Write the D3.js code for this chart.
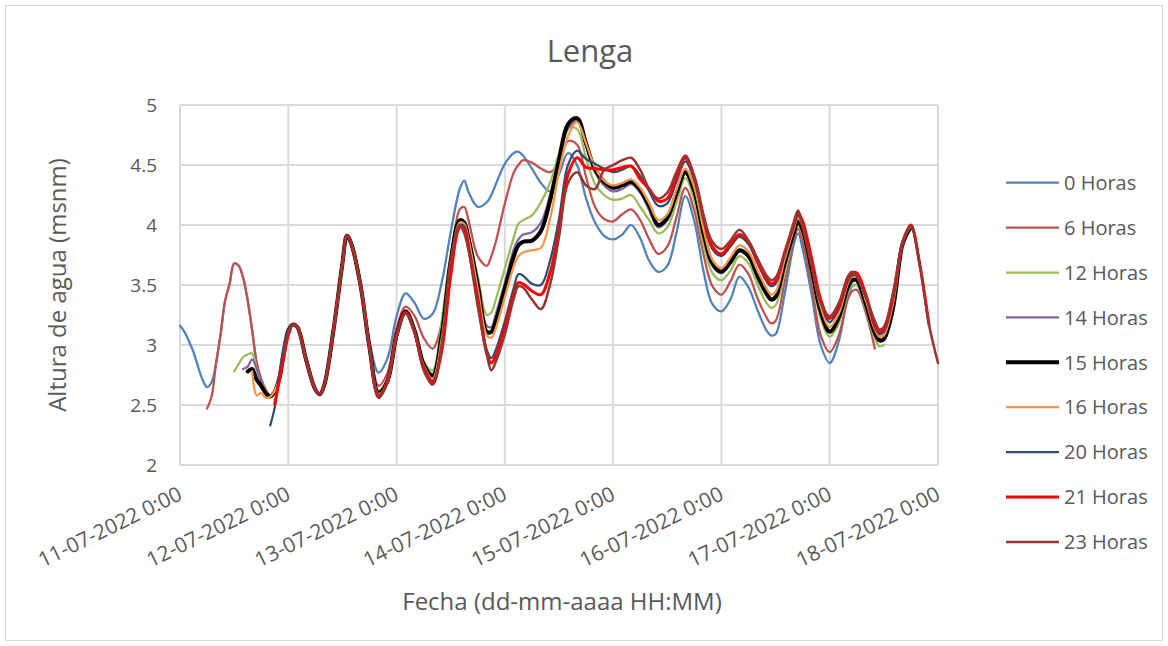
<!DOCTYPE html>
<html lang="es">
<head>
<meta charset="utf-8">
<title>Lenga</title>
<style>
body { margin: 0; background: #fff; }
text { font-family: "Open Sans", sans-serif; fill: #595959; }
</style>
<script src="https://cdn.jsdelivr.net/npm/d3@7"></script>
</head>
<body>
<svg id="chart" width="1168" height="646"></svg>
<script>

// pronosticos: [horas desde 11-07-2022 0:00, altura (msnm)]
var s00 = [[0,3.16],[1,3.11],[2,3.03],[3,2.94],[4,2.82],[5,2.71],[6,2.65],[7,2.69],[8,2.85],[9,3.09],[10,3.37],[11,3.51],[12,3.68],[13,3.66],[14,3.56],[15,3.37],[16,3.12],[17,2.85],[18,2.70],[19,2.62],[20,2.58],[21,2.61],[22,2.72],[23,2.93],
  [24,3.12],[25,3.17],[26,3.15],[28,2.87],[30,2.63],[31,2.59],[32,2.67],[34,3.12],[36,3.68],[37,3.91],[38,3.84],[40,3.50],[42,3.03],
  [44,2.77],[46,2.89],[48,3.24],[50,3.43],[52,3.35],[54,3.22],[56,3.26],[58,3.52],[60,3.94],[62,4.30],[63,4.37],[64,4.27],[66,4.15],[68,4.19],[69,4.25],[70,4.34],[72,4.51],[74,4.60],[75,4.61],[76,4.58],[78,4.47],[80,4.35],[82,4.28],[84,4.42],[86,4.60],[88,4.50],
  [90,4.22],[92,4.02],[94,3.91],[96,3.88],[98,3.92],[100,4.00],[102,3.89],[104,3.70],[106,3.61],[108,3.66],[110,3.93],[112,4.24],[114,4.03],[116,3.62],[118,3.34],[120,3.28],[122,3.38],[124,3.57],[126,3.48],[128,3.29],[130,3.12],[131,3.08],[132,3.09],[134,3.42],[136,3.83],[137,3.93],[138,3.80],[140,3.42],[142,3.00],[144,2.85],[146,3.03],[148,3.40],[149,3.49],[150,3.50]];

var s06 = [[6,2.47],[7,2.57],[8,2.85],[9,3.09],[10,3.37],[11,3.51],[12,3.68],[13,3.66],[14,3.56],[15,3.37],[16,3.12],[17,2.85],[18,2.72],[19,2.63],[20,2.58],[21,2.61],[22,2.72],[23,2.93],
  [24,3.12],[25,3.17],[26,3.15],[28,2.87],[30,2.63],[31,2.59],[32,2.67],[34,3.12],[36,3.68],[37,3.91],[38,3.84],[40,3.50],[42,3.00],
  [44,2.66],[46,2.77],[48,3.14],[50,3.32],[52,3.24],[54,3.06],[56,2.97],[58,3.18],[60,3.70],[62,4.13],[63,4.15],[64,4.03],[66,3.74],[68,3.66],[69,3.74],[70,3.86],[72,4.18],[74,4.44],[75,4.50],[76,4.54],[78,4.52],[80,4.47],[82,4.44],[84,4.52],[86,4.70],[88,4.67],
  [90,4.40],[92,4.15],[94,4.05],[96,4.03],[98,4.09],[100,4.13],[102,4.04],[104,3.88],[106,3.76],[108,3.82],[110,4.06],[112,4.31],[114,4.12],[116,3.76],[118,3.49],[120,3.42],[122,3.53],[124,3.67],[126,3.59],[128,3.39],[130,3.23],[131,3.18],[132,3.20],[134,3.52],[136,3.87],[137,3.97],[138,3.86],[140,3.50],[142,3.08],[144,2.94],[146,3.08],[148,3.38],[149,3.45],[150,3.46],[152,3.27],[154,2.97]];

var s12 = [[12,2.78],[13,2.84],[14,2.90],[15,2.92],[16,2.93],[17,2.80],[18,2.69],[19,2.62],[20,2.58],[21,2.61],[22,2.72],[23,2.93],
  [24,3.12],[25,3.17],[26,3.15],[28,2.87],[30,2.63],[31,2.59],[32,2.67],[34,3.12],[36,3.68],[37,3.91],[38,3.84],[40,3.50],[42,2.98],
  [44,2.62],[46,2.72],[48,3.09],[50,3.29],[52,3.13],[54,2.86],[56,2.79],[58,3.20],[60,3.75],[62,4.03],[63,4.00],[64,3.90],[66,3.57],[68,3.25],[69,3.27],[70,3.38],[72,3.64],[74,3.90],[75,4.01],[76,4.04],[78,4.08],[80,4.19],[82,4.35],[84,4.60],[86,4.81],[88,4.80],
  [90,4.56],[92,4.34],[94,4.25],[96,4.21],[98,4.22],[100,4.25],[102,4.15],[104,4.04],[106,3.93],[108,3.98],[110,4.18],[112,4.39],[114,4.20],[116,3.84],[118,3.60],[120,3.54],[122,3.62],[124,3.74],[126,3.68],[128,3.50],[130,3.35],[131,3.31],[132,3.33],[134,3.60],[136,3.90],[137,4.00],[138,3.92],[140,3.58],[142,3.22],[144,3.07],[146,3.18],[148,3.44],[149,3.50],[150,3.50],[152,3.30],[154,3.06],[155,2.99],[156,3.00]];

var s14 = [[14,2.80],[15,2.82],[16,2.88],[17,2.80],[18,2.69],[19,2.60],[20,2.58],[21,2.61],[22,2.72],[23,2.93],
  [24,3.12],[25,3.17],[26,3.15],[28,2.87],[30,2.63],[31,2.59],[32,2.67],[34,3.12],[36,3.68],[37,3.91],[38,3.84],[40,3.50],[42,2.98],
  [44,2.61],[46,2.71],[48,3.09],[50,3.28],[52,3.12],[54,2.85],[56,2.76],[58,3.12],[60,3.72],[62,4.04],[63,4.01],[64,3.88],[66,3.52],[68,3.16],[69,3.15],[70,3.26],[72,3.52],[74,3.80],[75,3.88],[76,3.92],[78,3.94],[80,4.02],[82,4.25],[84,4.56],[86,4.80],[88,4.87],
  [90,4.66],[92,4.44],[94,4.33],[96,4.28],[98,4.30],[100,4.34],[102,4.27],[104,4.12],[106,3.98],[108,4.04],[110,4.24],[112,4.43],[114,4.26],[116,3.90],[118,3.66],[120,3.60],[122,3.68],[124,3.78],[126,3.73],[128,3.55],[130,3.41],[131,3.37],[132,3.39],[134,3.66],[136,3.92],[137,4.03],[138,3.95],[140,3.62],[142,3.27],[144,3.11],[146,3.22],[148,3.47],[149,3.53],[150,3.53],[152,3.33],[154,3.09],[155,3.03],[156,3.04],[158,3.30]];

var s15 = [[15,2.78],[16,2.80],[17,2.71],[18,2.66],[19,2.60],[20,2.57],[21,2.61],[22,2.72],[23,2.93],
  [24,3.12],[25,3.17],[26,3.15],[28,2.87],[30,2.63],[31,2.59],[32,2.67],[34,3.12],[36,3.68],[37,3.91],[38,3.84],[40,3.50],[42,2.98],
  [44,2.60],[46,2.70],[48,3.08],[50,3.28],[52,3.12],[54,2.84],[56,2.74],[58,3.08],[60,3.70],[62,4.04],[63,4.02],[64,3.88],[66,3.50],[68,3.11],[69,3.11],[70,3.20],[72,3.47],[74,3.74],[75,3.83],[76,3.86],[78,3.87],[80,3.95],[82,4.20],[84,4.54],[86,4.84],[88,4.89],
  [90,4.68],[92,4.46],[94,4.36],[96,4.31],[98,4.33],[100,4.36],[102,4.29],[104,4.16],[106,4.00],[108,4.06],[110,4.26],[112,4.44],[114,4.28],[116,3.94],[118,3.68],[120,3.61],[122,3.69],[124,3.79],[126,3.74],[128,3.58],[130,3.43],[131,3.38],[132,3.40],[134,3.68],[136,3.93],[137,4.03],[138,3.96],[140,3.63],[142,3.28],[144,3.11],[146,3.23],[148,3.48],[149,3.54],[150,3.54],[152,3.34],[154,3.10],[155,3.04],[156,3.05],[158,3.30],[160,3.82],[161,3.92],[162,3.98]];

var s16 = [[16,2.78],[17,2.58],[18,2.60],[19,2.56],[20,2.57],[21,2.62],[22,2.72],[23,2.93],
  [24,3.12],[25,3.17],[26,3.15],[28,2.87],[30,2.63],[31,2.59],[32,2.67],[34,3.12],[36,3.68],[37,3.91],[38,3.84],[40,3.50],[42,2.98],
  [44,2.59],[46,2.70],[48,3.08],[50,3.27],[52,3.11],[54,2.83],[56,2.72],[58,3.05],[60,3.66],[62,4.02],[63,4.01],[64,3.87],[66,3.47],[68,3.08],[69,3.06],[70,3.14],[72,3.40],[74,3.66],[75,3.74],[76,3.77],[78,3.79],[80,3.81],[82,4.05],[84,4.44],[86,4.74],[88,4.86],
  [90,4.68],[92,4.48],[94,4.37],[96,4.33],[98,4.35],[100,4.38],[102,4.31],[104,4.18],[106,4.04],[108,4.09],[110,4.29],[112,4.47],[114,4.31],[116,3.97],[118,3.71],[120,3.64],[122,3.73],[124,3.83],[126,3.78],[128,3.62],[130,3.47],[131,3.42],[132,3.44],[134,3.71],[136,3.96],[137,4.06],[138,3.99],[140,3.66],[142,3.32],[144,3.15],[146,3.26],[148,3.51],[149,3.57],[150,3.57],[152,3.37],[154,3.13],[155,3.07],[156,3.08],[158,3.34],[160,3.82],[161,3.93],[162,3.99]];

var s20 = [[20,2.33],[21,2.48],[22,2.75],[23,2.99],
  [24,3.12],[25,3.17],[26,3.15],[28,2.87],[30,2.63],[31,2.59],[32,2.67],[34,3.12],[36,3.68],[37,3.91],[38,3.84],[40,3.50],[42,2.98],
  [44,2.58],[46,2.70],[48,3.08],[50,3.27],[52,3.11],[54,2.82],[56,2.70],[58,2.98],[60,3.60],[62,4.00],[63,3.99],[64,3.82],[66,3.40],[68,2.96],[69,2.89],[70,2.96],[72,3.20],[74,3.48],[75,3.59],[76,3.58],[78,3.51],[80,3.50],[82,3.70],[84,4.05],[86,4.50],[88,4.62],
  [90,4.55],[92,4.51],[94,4.47],[96,4.44],[98,4.46],[100,4.49],[102,4.41],[104,4.28],[106,4.16],[108,4.18],[110,4.36],[112,4.53],[114,4.37],[116,4.05],[118,3.80],[120,3.74],[122,3.82],[124,3.90],[126,3.84],[128,3.68],[130,3.53],[131,3.49],[132,3.51],[134,3.75],[136,3.98],[137,4.08],[138,4.01],[140,3.70],[142,3.36],[144,3.19],[146,3.30],[148,3.53],[149,3.58],[150,3.58],[152,3.40],[154,3.15],[155,3.09],[156,3.11],[158,3.38],[160,3.82],[161,3.93],[162,3.99],[164,3.66]];

var s21 = [[21,2.51],[22,2.70],[23,2.90],
  [24,3.08],[25,3.17],[26,3.15],[28,2.87],[30,2.63],[31,2.59],[32,2.67],[34,3.12],[36,3.68],[37,3.91],[38,3.84],[40,3.50],[42,2.98],
  [44,2.57],[46,2.70],[48,3.08],[50,3.27],[52,3.11],[54,2.81],[56,2.69],[58,2.95],[60,3.58],[62,3.98],[63,3.97],[64,3.80],[66,3.37],[68,2.93],[69,2.85],[70,2.91],[72,3.15],[74,3.43],[75,3.52],[76,3.51],[78,3.45],[80,3.42],[82,3.60],[84,3.96],[86,4.42],[88,4.56],
  [90,4.48],[92,4.47],[94,4.46],[96,4.46],[98,4.48],[100,4.49],[102,4.38],[104,4.30],[106,4.20],[108,4.22],[110,4.40],[112,4.56],[114,4.40],[116,4.08],[118,3.82],[120,3.76],[122,3.84],[124,3.92],[126,3.86],[128,3.70],[130,3.55],[131,3.51],[132,3.53],[134,3.77],[136,4.00],[137,4.10],[138,4.03],[140,3.72],[142,3.38],[144,3.22],[146,3.32],[148,3.55],[149,3.60],[150,3.60],[152,3.42],[154,3.17],[155,3.11],[156,3.13],[158,3.40],[160,3.83],[161,3.94],[162,4.00],[164,3.66],[166,3.17]];

var s23 = [[23,2.93],
  [24,3.10],[25,3.17],[26,3.15],[28,2.87],[30,2.63],[31,2.59],[32,2.67],[34,3.12],[36,3.68],[37,3.91],[38,3.84],[40,3.50],[42,2.98],
  [44,2.56],[46,2.69],[48,3.07],[50,3.26],[52,3.10],[54,2.79],[56,2.67],[58,3.00],[60,3.71],[62,4.00],[63,3.93],[64,3.78],[66,3.32],[68,2.92],[69,2.79],[70,2.86],[72,3.09],[74,3.39],[75,3.49],[76,3.48],[78,3.38],[80,3.30],[82,3.50],[84,3.90],[86,4.35],[88,4.44],
  [90,4.33],[92,4.30],[94,4.46],[96,4.50],[98,4.54],[100,4.56],[102,4.46],[104,4.30],[106,4.22],[108,4.27],[110,4.44],[112,4.58],[114,4.39],[116,4.08],[118,3.86],[120,3.80],[122,3.87],[124,3.96],[126,3.87],[128,3.72],[130,3.58],[131,3.54],[132,3.56],[134,3.76],[136,4.02],[137,4.12],[138,3.98],[140,3.66],[142,3.35],[144,3.24],[146,3.35],[148,3.57],[149,3.61],[150,3.57],[152,3.40],[154,3.20],[155,3.13],[156,3.15],[158,3.43],[160,3.84],[161,3.94],[162,4.00],[164,3.66],[166,3.17],[168,2.85]];

var etiquetas = ["0 Horas", "6 Horas", "12 Horas", "14 Horas", "15 Horas", "16 Horas", "20 Horas", "21 Horas", "23 Horas"];
var colores = ["#4F81BD", "#C0504D", "#9BBB59", "#8064A2", "#000000", "#F79646", "#2C4D75", "#FF0000", "#943634"];
var grosores = [2.25, 2.25, 2.25, 2.25, 4, 2.25, 2.25, 3, 2.5];
var series = [s00, s06, s12, s14, s15, s16, s20, s21, s23];

var ticksY = [2, 2.5, 3, 3.5, 4, 4.5, 5];
var inicio = new Date(2022, 6, 11, 0, 0),
    fin = new Date(2022, 6, 18, 0, 0);

var svg = d3.select("#chart");

svg.append("rect")
    .attr("x", 5.5).attr("y", 5.5)
    .attr("width", 1157).attr("height", 635)
    .attr("fill", "#fff")
    .attr("stroke", "#d9d9d9");

var x = d3.scaleTime().domain([inicio, fin]).range([180, 938]),
    y = d3.scaleLinear().domain([2, 5]).range([465, 105]);

var dias = d3.timeDay.range(inicio, d3.timeDay.offset(fin, 1));

// rejilla
svg.append("g")
    .selectAll("line")
    .data(ticksY)
    .enter().append("line")
    .attr("x1", 180).attr("x2", 938)
    .attr("y1", function(d) { return y(d); })
    .attr("y2", function(d) { return y(d); })
    .attr("stroke", "#d9d9d9").attr("stroke-width", 2);

svg.append("g")
    .selectAll("line")
    .data(dias)
    .enter().append("line")
    .attr("x1", function(d) { return x(d); })
    .attr("x2", function(d) { return x(d); })
    .attr("y1", 105).attr("y2", 465)
    .attr("stroke", "#d9d9d9").attr("stroke-width", 2);

// ejes
var ejeY = svg.append("g")
    .attr("transform", "translate(180,0)")
    .call(d3.axisLeft(y).tickValues(ticksY).tickSize(0).tickPadding(23).tickFormat(d3.format("~g")));
ejeY.select(".domain").remove();
ejeY.selectAll("text")
    .style("font-family", "'Open Sans', sans-serif")
    .style("font-size", "19px")
    .attr("fill", "#595959");

var ejeX = svg.append("g")
    .attr("transform", "translate(0,465)")
    .call(d3.axisBottom(x)
      .tickValues(dias)
      .tickSize(0)
      .tickFormat(d3.timeFormat("%d-%m-%Y %-H:%M")));
ejeX.select(".domain").remove();
ejeX.selectAll("text")
    .style("font-family", "'Open Sans', sans-serif")
    .style("font-size", "21px")
    .attr("fill", "#595959")
    .attr("text-anchor", "end")
    .attr("x", 0).attr("y", 0).attr("dy", 0)
    .attr("transform", "translate(3,34) rotate(-26)");

// lineas
var linea = d3.line()
    .x(function(d) { return x(d3.timeHour.offset(inicio, d[0])); })
    .y(function(d) { return y(d[1]); })
    .curve(d3.curveCatmullRom.alpha(0.5));

svg.append("g")
    .selectAll("path")
    .data(series)
    .enter().append("path")
    .attr("d", linea)
    .attr("fill", "none")
    .attr("stroke", function(d, i) { return colores[i]; })
    .attr("stroke-width", function(d, i) { return grosores[i]; })
    .attr("stroke-linejoin", "round")
    .attr("stroke-linecap", "round");

// titulos
svg.append("text")
    .attr("x", 590).attr("y", 62)
    .attr("text-anchor", "middle")
    .style("font-size", "31px")
    .text("Lenga");

svg.append("text")
    .attr("transform", "translate(66,285) rotate(-90)")
    .attr("text-anchor", "middle")
    .style("font-size", "24px")
    .text("Altura de agua (msnm)");

svg.append("text")
    .attr("x", 562).attr("y", 610)
    .attr("text-anchor", "middle")
    .style("font-size", "24px")
    .text("Fecha (dd-mm-aaaa HH:MM)");

// leyenda
var leyenda = svg.append("g")
    .selectAll("g")
    .data(etiquetas)
    .enter().append("g")
    .attr("transform", function(d, i) { return "translate(1006," + (182.7 + i * 44.9) + ")"; });

leyenda.append("line")
    .attr("x1", 0).attr("x2", 53)
    .attr("stroke", function(d, i) { return colores[i]; })
    .attr("stroke-width", function(d, i) { return grosores[i]; });

leyenda.append("text")
    .attr("x", 58).attr("dy", "0.36em")
    .style("font-size", "20px")
    .text(function(d) { return d; });

</script>
</body>
</html>
